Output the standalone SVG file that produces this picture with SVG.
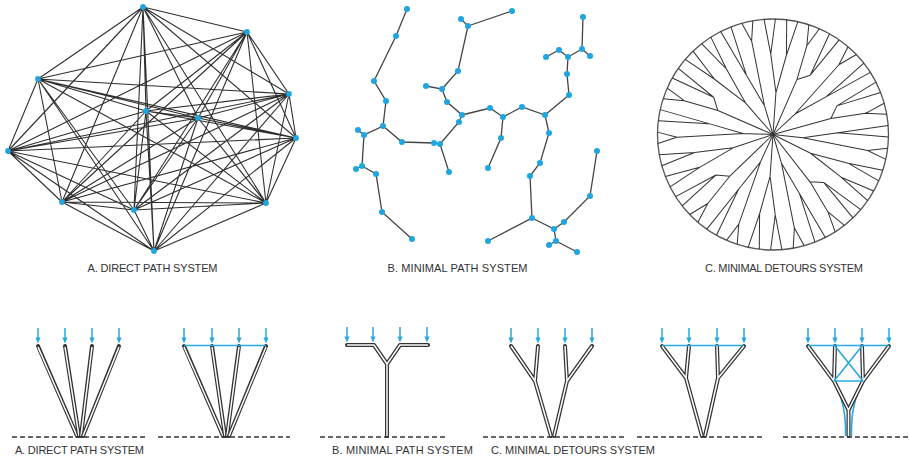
<svg xmlns="http://www.w3.org/2000/svg" xmlns:xlink="http://www.w3.org/1999/xlink" width="909" height="460" viewBox="0 0 909 460">
<style>
.edge{fill:none;stroke:#2f2f2f;stroke-width:1.1}
.bedge{fill:none;stroke:#444;stroke-width:1.3}
.dot{fill:#1fa6e0}
.br{fill:none;stroke:#333;stroke-width:1}
.ring{fill:none;stroke:#555;stroke-width:1.3}
.to{fill:none;stroke:#333;stroke-width:4;stroke-linecap:round;stroke-linejoin:round}
.ti{fill:none;stroke:#fff;stroke-width:1.5;stroke-linecap:butt;stroke-linejoin:round}
.blue{fill:none;stroke:#29a9e1;stroke-width:1.6}
.ground{fill:none;stroke:#333;stroke-width:1.6;stroke-dasharray:5 3}
.lbl{font-family:"Liberation Sans",Arial,sans-serif;font-size:11px;fill:#333}
</style>
<defs>
<g id="arr"><line x1="0" y1="-17" x2="0" y2="-6" stroke="#29a9e1" stroke-width="1.5"/><path d="M-2.6 -7.5L2.6 -7.5L0 -1.5Z" fill="#29a9e1"/></g>
<path id="tA" d="M0 0L0 -42M0 -42L-7.84 -80M0 -42L7.84 -80M-7.84 -80L-16.95 -114.25M-7.84 -80L-5.67 -115.36M7.84 -80L5.67 -115.36M7.84 -80L16.95 -114.25"/>
<path id="tB" d="M0 0L-3.14 -60M-3.14 -60L-9.31 -94.5M-3.14 -60L6.86 -69.7M-9.31 -94.5L-16.95 -114.25M-9.31 -94.5L-5.67 -115.36M6.86 -69.7L5.67 -115.36M6.86 -69.7L16.95 -114.25"/>
<path id="tC" d="M0 0L1.05 -30M1.05 -30L-6.37 -64.7M1.05 -30L9.41 -95.5M-6.37 -64.7L-16.95 -114.25M-6.37 -64.7L-5.67 -115.36M9.41 -95.5L5.67 -115.36M9.41 -95.5L16.95 -114.25"/>
</defs>
<rect width="909" height="460" fill="#fff"/>

<!-- A. Direct path system -->
<g id="direct-graph">
<g id="direct-connectors">
<path class="edge" d="M143 7L247 32M143 7L38 79M143 7L289 94M143 7L146 111M143 7L198 118M143 7L296 138M143 7L8 151M143 7L62 202M143 7L134 210M143 7L266 203M143 7L154 251
M247 32L38 79M247 32L289 94M247 32L146 111M247 32L198 118M247 32L296 138M247 32L8 151M247 32L62 202M247 32L134 210M247 32L266 203M247 32L154 251
M38 79L289 94M38 79L146 111M38 79L198 118M38 79L296 138M38 79L8 151M38 79L62 202M38 79L134 210M38 79L266 203M38 79L154 251
M289 94L146 111M289 94L198 118M289 94L296 138M289 94L8 151M289 94L62 202M289 94L134 210M289 94L266 203M289 94L154 251
M146 111L198 118M146 111L296 138M146 111L8 151M146 111L62 202M146 111L134 210M146 111L266 203M146 111L154 251
M198 118L296 138M198 118L8 151M198 118L62 202M198 118L134 210M198 118L266 203M198 118L154 251
M296 138L8 151M296 138L62 202M296 138L134 210M296 138L266 203M296 138L154 251
M8 151L62 202M8 151L134 210M8 151L266 203M8 151L154 251
M62 202L134 210M62 202L266 203M62 202L154 251
M134 210L266 203M134 210L154 251
M266 203L154 251"/>
</g>
<g id="a1"><circle class="dot" cx="143" cy="7" r="2.9"/></g>
<g id="a2"><circle class="dot" cx="247" cy="32" r="2.9"/></g>
<g id="a3"><circle class="dot" cx="38" cy="79" r="2.9"/></g>
<g id="a4"><circle class="dot" cx="289" cy="94" r="2.9"/></g>
<g id="a5"><circle class="dot" cx="146" cy="111" r="2.9"/></g>
<g id="a6"><circle class="dot" cx="198" cy="118" r="2.9"/></g>
<g id="a7"><circle class="dot" cx="296" cy="138" r="2.9"/></g>
<g id="a8"><circle class="dot" cx="8" cy="151" r="2.9"/></g>
<g id="a9"><circle class="dot" cx="62" cy="202" r="2.9"/></g>
<g id="a10"><circle class="dot" cx="134" cy="210" r="2.9"/></g>
<g id="a11"><circle class="dot" cx="266" cy="203" r="2.9"/></g>
<g id="a12"><circle class="dot" cx="154" cy="251" r="2.9"/></g>
</g>

<!-- B. Minimal path system -->
<g id="minimal-graph">
<g id="minimal-connectors">
<path class="bedge" d="M407 9L396 36L374 81L386 101L383 126L364 135L362 166L376 174L382 212L412 239
M358 130L364 135M362 166L356 169
M383 126L402 142L434 143L440 144L449 172
M440 144L459 122L462 115L447 102L442 89L426 86
M442 89L458 71L468 26L461 19M468 26L512 11
M462 115L490 108L503 117L501 138L488 168
M503 117L522 107L545 115L569 95L567 74L568 57L559 50L546 57
M568 57L582 49L590 56M582 49L583 17
M545 115L549 133L540 163L530 176L532 218L488 241
M532 218L554 229L564 222L590 196L597 151
M554 229L556 241L549 245M556 241L577 252"/>
</g>
<g id="b1"><circle class="dot" cx="407" cy="9" r="3"/></g>
<g id="b2"><circle class="dot" cx="396" cy="36" r="3"/></g>
<g id="b3"><circle class="dot" cx="374" cy="81" r="3"/></g>
<g id="b4"><circle class="dot" cx="386" cy="101" r="3"/></g>
<g id="b5"><circle class="dot" cx="383" cy="126" r="3"/></g>
<g id="b6"><circle class="dot" cx="358" cy="130" r="3"/></g>
<g id="b7"><circle class="dot" cx="364" cy="135" r="3"/></g>
<g id="b8"><circle class="dot" cx="362" cy="166" r="3"/></g>
<g id="b9"><circle class="dot" cx="356" cy="169" r="3"/></g>
<g id="b10"><circle class="dot" cx="376" cy="174" r="3"/></g>
<g id="b11"><circle class="dot" cx="382" cy="212" r="3"/></g>
<g id="b12"><circle class="dot" cx="412" cy="239" r="3"/></g>
<g id="b13"><circle class="dot" cx="402" cy="142" r="3"/></g>
<g id="b14"><circle class="dot" cx="434" cy="143" r="3"/></g>
<g id="b15"><circle class="dot" cx="440" cy="144" r="3"/></g>
<g id="b16"><circle class="dot" cx="449" cy="172" r="3"/></g>
<g id="b17"><circle class="dot" cx="459" cy="122" r="3"/></g>
<g id="b18"><circle class="dot" cx="462" cy="115" r="3"/></g>
<g id="b19"><circle class="dot" cx="447" cy="102" r="3"/></g>
<g id="b20"><circle class="dot" cx="442" cy="89" r="3"/></g>
<g id="b21"><circle class="dot" cx="426" cy="86" r="3"/></g>
<g id="b22"><circle class="dot" cx="458" cy="71" r="3"/></g>
<g id="b23"><circle class="dot" cx="468" cy="26" r="3"/></g>
<g id="b24"><circle class="dot" cx="461" cy="19" r="3"/></g>
<g id="b25"><circle class="dot" cx="512" cy="11" r="3"/></g>
<g id="b26"><circle class="dot" cx="490" cy="108" r="3"/></g>
<g id="b27"><circle class="dot" cx="503" cy="117" r="3"/></g>
<g id="b28"><circle class="dot" cx="501" cy="138" r="3"/></g>
<g id="b29"><circle class="dot" cx="488" cy="168" r="3"/></g>
<g id="b30"><circle class="dot" cx="522" cy="107" r="3"/></g>
<g id="b31"><circle class="dot" cx="545" cy="115" r="3"/></g>
<g id="b32"><circle class="dot" cx="569" cy="95" r="3"/></g>
<g id="b33"><circle class="dot" cx="567" cy="74" r="3"/></g>
<g id="b34"><circle class="dot" cx="568" cy="57" r="3"/></g>
<g id="b35"><circle class="dot" cx="559" cy="50" r="3"/></g>
<g id="b36"><circle class="dot" cx="546" cy="57" r="3"/></g>
<g id="b37"><circle class="dot" cx="582" cy="49" r="3"/></g>
<g id="b38"><circle class="dot" cx="590" cy="56" r="3"/></g>
<g id="b39"><circle class="dot" cx="583" cy="17" r="3"/></g>
<g id="b40"><circle class="dot" cx="549" cy="133" r="3"/></g>
<g id="b41"><circle class="dot" cx="540" cy="163" r="3"/></g>
<g id="b42"><circle class="dot" cx="530" cy="176" r="3"/></g>
<g id="b43"><circle class="dot" cx="532" cy="218" r="3"/></g>
<g id="b44"><circle class="dot" cx="488" cy="241" r="3"/></g>
<g id="b45"><circle class="dot" cx="554" cy="229" r="3"/></g>
<g id="b46"><circle class="dot" cx="564" cy="222" r="3"/></g>
<g id="b47"><circle class="dot" cx="590" cy="196" r="3"/></g>
<g id="b48"><circle class="dot" cx="597" cy="151" r="3"/></g>
<g id="b49"><circle class="dot" cx="556" cy="241" r="3"/></g>
<g id="b50"><circle class="dot" cx="549" cy="245" r="3"/></g>
<g id="b51"><circle class="dot" cx="577" cy="252" r="3"/></g>
</g>

<!-- C. Minimal detours system -->
<g id="detours-disc">
<circle class="ring" cx="773" cy="134.5" r="115.5"/>
<g class="br">
<use xlink:href="#tA" transform="translate(773,134.5) rotate(4)"/>
<use xlink:href="#tB" transform="translate(773,134.5) rotate(26.5)"/>
<use xlink:href="#tC" transform="translate(773,134.5) rotate(49) scale(-1,1)"/>
<use xlink:href="#tB" transform="translate(773,134.5) rotate(71.5) scale(-1,1)"/>
<use xlink:href="#tC" transform="translate(773,134.5) rotate(94)"/>
<use xlink:href="#tA" transform="translate(773,134.5) rotate(116.5)"/>
<use xlink:href="#tB" transform="translate(773,134.5) rotate(139) scale(-1,1)"/>
<use xlink:href="#tC" transform="translate(773,134.5) rotate(161.5)"/>
<use xlink:href="#tA" transform="translate(773,134.5) rotate(184)"/>
<use xlink:href="#tC" transform="translate(773,134.5) rotate(206.5) scale(-1,1)"/>
<use xlink:href="#tB" transform="translate(773,134.5) rotate(229)"/>
<use xlink:href="#tA" transform="translate(773,134.5) rotate(251.5)"/>
<use xlink:href="#tC" transform="translate(773,134.5) rotate(274) scale(-1,1)"/>
<use xlink:href="#tB" transform="translate(773,134.5) rotate(296.5)"/>
<use xlink:href="#tA" transform="translate(773,134.5) rotate(319)"/>
<use xlink:href="#tC" transform="translate(773,134.5) rotate(341.5)"/>
</g>
</g>

<!-- top labels -->
<text class="lbl" x="152.5" y="272" text-anchor="middle" textLength="130">A. DIRECT PATH SYSTEM</text>
<text class="lbl" x="457.5" y="272" text-anchor="middle" textLength="140">B. MINIMAL PATH SYSTEM</text>
<text class="lbl" x="784" y="272" text-anchor="middle" textLength="158">C. MINIMAL DETOURS SYSTEM</text>

<!-- bottom: A1 -->
<g id="direct-1">
<path class="ground" d="M12 437H146"/>
<path class="to" d="M38 346L77 436"/><path class="ti" d="M38 347L77 436"/>
<path class="to" d="M65 346L79 436"/><path class="ti" d="M65 347L79 436"/>
<path class="to" d="M92 346L81 436"/><path class="ti" d="M92 347L81 436"/>
<path class="to" d="M119 346L83 436"/><path class="ti" d="M119 347L83 436"/>
<use xlink:href="#arr" x="38" y="345"/><use xlink:href="#arr" x="65" y="345"/><use xlink:href="#arr" x="92" y="345"/><use xlink:href="#arr" x="119" y="345"/>
</g>
<!-- A2 -->
<g id="direct-2">
<path class="ground" d="M158 437H290"/>
<path class="to" d="M184 346L223 436"/><path class="ti" d="M184 347L223 436"/>
<path class="to" d="M212 346L225 436"/><path class="ti" d="M212 347L225 436"/>
<path class="to" d="M239 346L227 436"/><path class="ti" d="M239 347L227 436"/>
<path class="to" d="M266 346L229 436"/><path class="ti" d="M266 347L229 436"/>
<path class="blue" d="M184 345.5H266"/>
<use xlink:href="#arr" x="184" y="345"/><use xlink:href="#arr" x="212" y="345"/><use xlink:href="#arr" x="239" y="345"/><use xlink:href="#arr" x="266" y="345"/>
</g>
<!-- B -->
<g id="minimal-1">
<path class="ground" d="M320 437H448"/>
<path class="to" d="M347 345H374L387 364V436M428 345H400L387 364"/>
<path class="ti" d="M347 345H374L387 364V436M428 345H400L387 364"/>
<use xlink:href="#arr" x="347" y="344"/><use xlink:href="#arr" x="373" y="344"/><use xlink:href="#arr" x="400" y="344"/><use xlink:href="#arr" x="427" y="344"/>
</g>
<!-- C1 -->
<g id="detours-1">
<path class="ground" d="M483 437H626"/>
<path class="to" d="M511 346L535 381L551 436M538 346L535 381"/><path class="ti" d="M511 346L535 381L551 436M538 346L535 381"/>
<path class="to" d="M592 346L567 381L554 436M565 346L567 381"/><path class="ti" d="M592 346L567 381L554 436M565 346L567 381"/>
<use xlink:href="#arr" x="511" y="345"/><use xlink:href="#arr" x="538" y="345"/><use xlink:href="#arr" x="565" y="345"/><use xlink:href="#arr" x="592" y="345"/>
</g>
<!-- C2 -->
<g id="detours-2">
<path class="ground" d="M637 437H765"/>
<path class="to" d="M662 346L686 378L702 436M689 346L686 378"/><path class="ti" d="M662 346L686 378L702 436M689 346L686 378"/>
<path class="to" d="M744 346L718 378L705 436M717 346L718 378"/><path class="ti" d="M744 346L718 378L705 436M717 346L718 378"/>
<path class="blue" d="M662 345.5H744"/>
<use xlink:href="#arr" x="662" y="345"/><use xlink:href="#arr" x="689" y="345"/><use xlink:href="#arr" x="717" y="345"/><use xlink:href="#arr" x="744" y="345"/>
</g>
<!-- C3 -->
<g id="detours-3">
<path class="ground" d="M783 437H908"/>
<path class="blue" d="M834 381Q846.5 404 845.5 436M863 381Q850.5 404 851.5 436"/>
<path class="to" d="M808 346L834 381L848.5 410V436M835 346L834 381M889 346L863 381L848.5 410M862 346L863 381"/>
<path class="ti" d="M808 346L834 381L848.5 410V436M835 346L834 381M889 346L863 381L848.5 410M862 346L863 381"/>
<path class="blue" d="M808 345.5H889M834 381H863M835 346L863 381M862 346L834 381"/>
<use xlink:href="#arr" x="808" y="345"/><use xlink:href="#arr" x="835" y="345"/><use xlink:href="#arr" x="862" y="345"/><use xlink:href="#arr" x="889" y="345"/>
</g>

<!-- bottom labels -->
<text class="lbl" x="15" y="454" textLength="129">A. DIRECT PATH SYSTEM</text>
<text class="lbl" x="332" y="454" textLength="141">B. MINIMAL PATH SYSTEM</text>
<text class="lbl" x="491" y="454" textLength="164">C. MINIMAL DETOURS SYSTEM</text>
</svg>
